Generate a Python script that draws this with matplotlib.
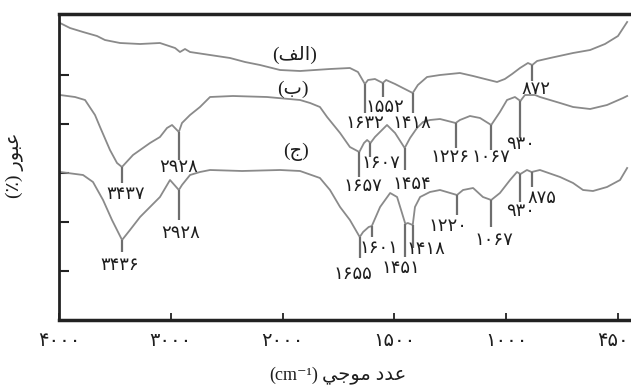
import numpy as np
import matplotlib
matplotlib.use("Agg")
import matplotlib.pyplot as plt
import matplotlib.transforms as mtransforms

# spectrum (الف) - wavenumber (cm-1) and transmittance (arbitrary units)
wn_a = [3991, 3902, 3785, 3660, 3589, 3454, 3275, 3097, 2962, 2918, 2873, 2828, 2649,
        2470, 2336, 2202, 2023, 1922, 1788, 1699, 1663, 1632, 1618, 1587, 1552, 1537,
        1497, 1462, 1418, 1395, 1354, 1296, 1207, 1148, 1095, 1041, 1006, 971, 932,
        893, 872, 848, 784, 671, 587, 514, 450, 405]
tr_a = [297, 292, 288, 284, 280, 277, 276, 277, 272, 268, 271, 268, 265,
        262, 258, 255, 250, 249, 251, 252, 248, 236, 240, 241, 237, 240,
        236, 232, 227, 235, 243, 245, 247, 244, 241, 238, 241, 246, 252,
        257, 255, 259, 262, 267, 270, 276, 284, 298]

# spectrum (ب)
wn_b = [3991, 3857, 3767, 3678, 3633, 3544, 3481, 3437, 3338, 3186, 3097, 3034, 2989,
        2928, 2900, 2828, 2739, 2649, 2444, 2140, 1922, 1877, 1833, 1801, 1743, 1699,
        1657, 1636, 1622, 1607, 1587, 1533, 1497, 1454, 1430, 1399, 1372, 1341, 1296,
        1226, 1207, 1162, 1117, 1067, 1028, 996, 957, 930, 908, 858, 834, 735, 671,
        587, 504, 425, 405]
tr_b = [225, 223, 220, 205, 193, 170, 157, 153, 165, 177, 183, 192, 195,
        188, 197, 205, 213, 223, 224, 223, 220, 217, 213, 203, 187, 173,
        168, 177, 180, 177, 183, 195, 187, 172, 182, 192, 198, 200, 201,
        197, 200, 204, 202, 195, 208, 220, 223, 219, 225, 225, 223, 217, 213,
        211, 215, 222, 224]

# spectrum (ج)
wn_c = [3991, 3785, 3696, 3606, 3526, 3436, 3365, 3275, 3186, 3097, 3007, 2928, 2900,
        2828, 2739, 2649, 2363, 2023, 1922, 1833, 1788, 1743, 1699, 1655, 1640, 1615,
        1601, 1564, 1519, 1488, 1466, 1451, 1440, 1418, 1408, 1385, 1341, 1296, 1220,
        1193, 1148, 1104, 1067, 1028, 981, 947, 930, 898, 875, 834, 735, 671, 622,
        573, 504, 440, 405]
tr_c = [148, 145, 138, 120, 100, 80, 90, 103, 113, 123, 140, 130, 135,
        145, 148, 150, 149, 150, 149, 142, 130, 113, 100, 83, 88, 93,
        94, 113, 127, 123, 107, 96, 97, 95, 113, 123, 128, 130, 125,
        130, 132, 123, 120, 127, 140, 148, 146, 150, 148, 150, 143, 137, 130,
        129, 133, 140, 152]

# marked bands
peaks_a = [1632, 1552, 1418, 872]
peaks_b = [3437, 2928, 1657, 1607, 1454, 1226, 1067, 930]
peaks_c = [3436, 2928, 1655, 1601, 1451, 1418, 1220, 1067, 930, 875]

# stem length and label offset (pixels) for every band
stem_a = [29, 14, 20, 16]
stem_b = [16, 28, 25, 14, 22, 25, 25, 37]
stem_c = [12, 30, 21, 11, 33, 23, 20, 27, 28, 15]
off_a = [(0, 10), (2, 10), (-1, 10), (4, 8)]
off_b = [(4, 11), (0, 7), (4, 9), (10, 6), (7, 14), (-6, 9), (0, 7), (0, 6)]
off_c = [(-2, 13), (2, 13), (-7, 16), (7, 11), (-4, 11), (13, 1), (-9, 11), (3, 13), (0, 9), (10, 11)]

tick_wn = [4000, 3000, 2000, 1500, 1000, 450]

# axis is stretched below 2000 (equal spacing between the labelled ticks)
knot_w = np.array([0, 450, 1000, 1500, 2000, 3000, 4000, 5000])
knot_u = np.array([-5 - 450 / 550, -5, -4, -3, -2, -1, 0, 1])


def forward(w):
    return np.interp(w, knot_w, knot_u)


def inverse(u):
    return np.interp(u, knot_u, knot_w)


def fa_digits(n):
    return str(n).translate(str.maketrans("0123456789", "۰۱۲۳۴۵۶۷۸۹"))


line_col = "#8a8a8a"
stem_col = "#6e6e6e"
txt_col = "#1e1e1e"
digit_font = ["DejaVu Sans"]
serif_mix = ["Liberation Serif", "DejaVu Sans"]

fig = plt.figure(figsize=(6.31, 3.86), dpi=100)
ax = fig.add_axes([59 / 631, 66 / 386, 572 / 631, 306 / 386])
ax.set_xscale("function", functions=(forward, inverse))

for wn, tr, peaks, stems, offs in [(wn_a, tr_a, peaks_a, stem_a, off_a),
                                   (wn_b, tr_b, peaks_b, stem_b, off_b),
                                   (wn_c, tr_c, peaks_c, stem_c, off_c)]:
    ax.plot(wn, tr, color=line_col, lw=1.3)
    w_sorted = np.array(wn[::-1])
    t_sorted = np.array(tr[::-1])
    for p, s, (dx, dy) in zip(peaks, stems, offs):
        top = np.interp(p, w_sorted, t_sorted)
        ax.vlines(p, top - s, top, color=stem_col, lw=1.6)
        ax.annotate(fa_digits(p), (p, top - s), xytext=(dx, -dy),
                    textcoords="offset pixels", ha="center", va="center",
                    fontsize=13, color=txt_col, family=digit_font)

# curve names
ax.text(1945, 265, "(ﻒﻟﺍ)", ha="center", va="center", fontsize=14, color=txt_col, family=serif_mix)
ax.text(1955, 231, "(ﺏ)", ha="center", va="center", fontsize=14, color=txt_col, family=serif_mix)
ax.text(1940, 168, "(ﺝ)", ha="center", va="center", fontsize=14, color=txt_col, family=serif_mix)

ax.set_xlim(4000, 386)
ax.set_ylim(0, 306)
ax.set_xticks(tick_wn)
ax.set_xticklabels([fa_digits(t) for t in tick_wn], fontsize=14, color=txt_col, family=digit_font)
ax.set_yticks([49, 98, 147, 196, 245])
ax.set_yticklabels([])
ax.tick_params(axis="x", direction="in", length=5, width=1.3, pad=8, color="#222222")
ax.tick_params(axis="y", direction="in", length=7, width=1.5, color="#222222")
ax.xaxis.set_minor_locator(plt.NullLocator())

# keep the last tick label inside the figure
last = ax.get_xticklabels()[-1]
last.set_transform(last.get_transform() + mtransforms.ScaledTranslation(-5 / 100, 0, fig.dpi_scale_trans))

for side in ["top", "bottom"]:
    ax.spines[side].set_linewidth(2.5)
    ax.spines[side].set_color("#222222")
ax.spines["left"].set_linewidth(2)
ax.spines["left"].set_color("#222222")
ax.spines["right"].set_visible(False)

# x label: unit in serif, words in the Arabic-script font
fig.text(318 / 631, 1 - 375 / 386, "(cm⁻¹)", ha="right", va="center",
         fontsize=13, color=txt_col, family=serif_mix)
fig.text(322 / 631, 1 - 375 / 386, "ﻲﺟﻮﻣ ﺩﺪﻋ", ha="left", va="center",
         fontsize=14, color=txt_col, family=serif_mix)
fig.text(15 / 631, 1 - 165 / 386, "(٪) ﺭﻮﺒﻋ", ha="center", va="center", rotation=90,
         fontsize=14, color=txt_col, family=serif_mix)

fig.savefig("out.png", dpi=100)
